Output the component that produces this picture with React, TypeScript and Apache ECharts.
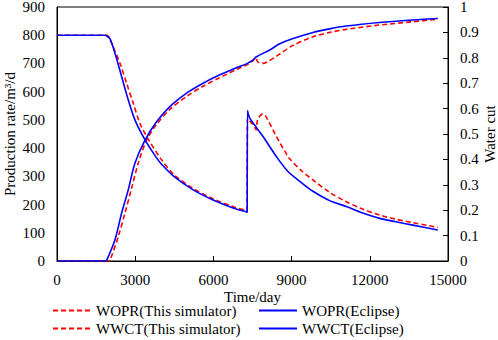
import React, { useEffect, useRef } from "react";
import * as echarts from "echarts";

const xTicks = { min: 0, max: 15000, interval: 3000 };
const leftTicks = { min: 0, max: 900, interval: 100 };
const rightTicks = { min: 0, max: 1, interval: 0.1 };

const woprSim: [number, number][] = [
  [0, 800], [1920, 800], [1980, 795], [2094, 772], [2414, 701], [2669, 630], [2925, 559],
  [3180, 488], [3500, 432], [4000, 360], [4500, 305], [5200, 258], [6000, 220], [6800, 191],
  [7295, 178.2], [7300, 178], [7305, 505], [7310, 504], [7500, 485], [7640, 465], [7650, 464],
  [7690, 498], [7800, 516], [7905, 521], [8000, 514], [8352, 453], [8544, 420], [8736, 390],
  [8927, 362], [9400, 318], [9821, 287], [10460, 243], [11098, 210], [11700, 185], [12375, 163],
  [13000, 148], [13653, 136], [14610, 119],
];

const woprEcl: [number, number][] = [
  [0, 800], [1860, 800], [1910, 797], [2031, 788], [2222, 737], [2478, 654], [2733, 571],
  [2989, 500], [3372, 430], [3800, 368], [4011, 343], [4521, 297], [5223, 252], [5989, 216],
  [6755, 188], [7295, 173.2], [7300, 173], [7305, 533], [7310, 531], [7395, 506], [7650, 473],
  [7905, 441], [8416, 370], [8862, 317], [9400, 276], [9821, 247], [10460, 214], [11098, 193],
  [11700, 171], [12375, 151], [13000, 139], [13653, 127], [14610, 110],
];

const wwctSim: [number, number][] = [
  [0, 0], [2000, 0], [2040, 0.004], [2350, 0.096], [2605, 0.188], [2861, 0.286], [3116, 0.385],
  [3436, 0.476], [3800, 0.535], [4330, 0.597], [5000, 0.65], [5606, 0.688], [6245, 0.722],
  [6885, 0.754], [7300, 0.773], [7500, 0.787], [7645, 0.8], [7650, 0.8], [7690, 0.785],
  [7800, 0.779], [7905, 0.778], [8100, 0.786], [8416, 0.806], [8544, 0.815], [9000, 0.846],
  [9821, 0.883], [10460, 0.9], [11098, 0.912], [12375, 0.929], [13653, 0.942], [14610, 0.952],
];

const wwctEcl: [number, number][] = [
  [0, 0], [1870, 0], [1910, 0.004], [2222, 0.083], [2478, 0.188], [2733, 0.28], [2989, 0.385],
  [3372, 0.475], [3820, 0.548], [4330, 0.608], [5000, 0.663], [5606, 0.7], [6245, 0.733],
  [6800, 0.757], [7300, 0.778], [7500, 0.79], [7650, 0.804], [8161, 0.831], [8544, 0.855],
  [9000, 0.874], [9821, 0.9], [10460, 0.914], [11098, 0.925], [12375, 0.939], [13653, 0.949],
  [14610, 0.955],
];

const names = {
  woprSim: "WOPR(This simulator)",
  woprEcl: "WOPR(Eclipse)",
  wwctSim: "WWCT(This simulator)",
  wwctEcl: "WWCT(Eclipse)",
};

const FONT = "Liberation Serif";
const RED = "#ff0000";
const BLUE = "#0000ff";

export default function App() {
  const ref = useRef<HTMLDivElement>(null);
  useEffect(() => {
    if (!ref.current) return;
    const chart = echarts.init(ref.current, null, { renderer: "svg" });
    const txt = { fontFamily: FONT, fontSize: 15, color: "#000", fontWeight: "normal" as const };
    const legendBase = {
      orient: "vertical" as const,
      top: 303,
      height: 60,
      padding: 0,
      itemWidth: 38,
      itemHeight: 14,
      itemGap: 3,
      itemStyle: { opacity: 0 },
      textStyle: { ...txt },
    };
    const mk = (name: string, data: [number, number][], color: string, dashed: boolean, yIdx: number) => ({
      name,
      type: "line",
      data,
      yAxisIndex: yIdx,
      symbol: "none",
      smooth: 0.3,
      lineStyle: { color, width: 1.6, type: dashed ? [5, 3] : "solid" },
      itemStyle: { color },
      z: dashed ? 2 : 3,
    });
    chart.setOption({
      animation: false,
      backgroundColor: "#fff",
      textStyle: { fontFamily: FONT, fontSize: 15, color: "#000" },
      grid: {
        left: 57, right: 50, top: 7, bottom: 79,
        containLabel: false, outerBoundsMode: "none",
        show: true, borderColor: "#000", borderWidth: 1,
      },
      legend: [
        { ...legendBase, left: 52, data: [names.woprSim, names.wwctSim] },
        { ...legendBase, left: 258, data: [names.woprEcl, names.wwctEcl] },
      ],
      xAxis: {
        type: "value",
        ...xTicks,
        name: "Time/day",
        nameLocation: "middle",
        nameGap: 28,
        nameMoveOverlap: false,
        nameTextStyle: { ...txt },
        axisLine: { lineStyle: { color: "#000", width: 1 } },
        axisTick: { inside: true, length: 5, lineStyle: { color: "#000" } },
        axisLabel: { ...txt, margin: 11, formatter: (v: number) => String(v) },
        splitLine: { show: false },
      },
      yAxis: [
        {
          type: "value",
          ...leftTicks,
          name: "Production rate/m³/d",
          nameLocation: "middle",
          nameGap: 40,
          nameMoveOverlap: false,
          nameTextStyle: { ...txt },
          axisLine: { show: true, lineStyle: { color: "#000", width: 1 } },
          axisTick: { show: false },
          axisLabel: { ...txt, margin: 12, formatter: (v: number) => String(v) },
          splitLine: { show: false },
        },
        {
          type: "value",
          ...rightTicks,
          position: "right",
          name: "Water cut",
          nameLocation: "middle",
          nameGap: 34,
          nameRotate: 90,
          nameMoveOverlap: false,
          nameTextStyle: { ...txt },
          axisLine: { show: true, lineStyle: { color: "#000", width: 1 } },
          axisTick: { show: true, inside: true, length: 5, lineStyle: { color: "#000" } },
          axisLabel: { ...txt, margin: 12, formatter: (v: number) => String(Math.round(v * 10) / 10) },
          splitLine: { show: false },
        },
      ],
      series: [
        mk(names.woprSim, woprSim, RED, true, 0),
        mk(names.wwctSim, wwctSim, RED, true, 1),
        mk(names.woprEcl, woprEcl, BLUE, false, 0),
        mk(names.wwctEcl, wwctEcl, BLUE, false, 1),
      ],
    });
    return () => chart.dispose();
  }, []);
  return <div ref={ref} style={{ width: 498, height: 340, position: "absolute", left: 0, top: 0 }} />;
}
